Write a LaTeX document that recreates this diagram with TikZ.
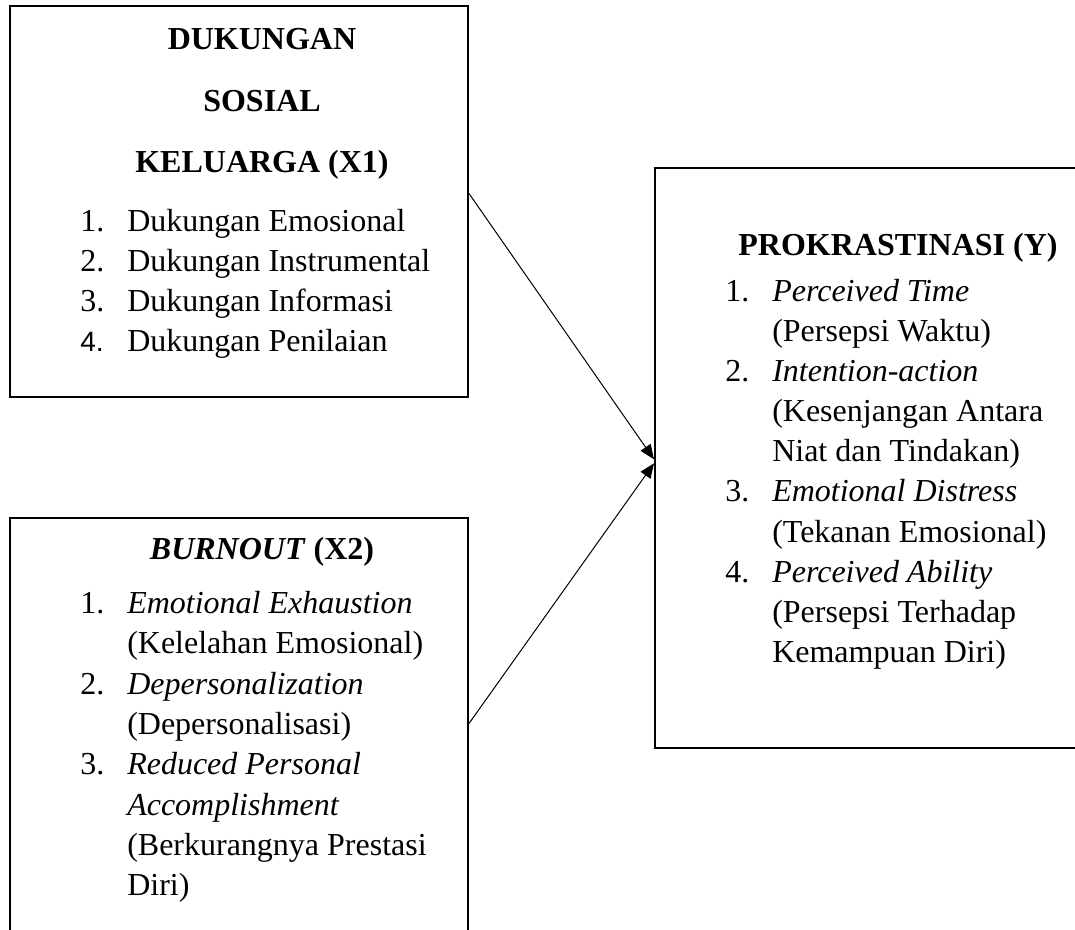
\documentclass[tikz,border=0pt]{standalone}
\usepackage{fontspec}
\setmainfont{Liberation Serif}
\newfontfamily\arialf{Liberation Sans}
\usetikzlibrary{fit,arrows.meta}
\begin{document}
\begin{tikzpicture}[x=0.75pt,y=-0.75pt,
  frame/.style={draw, line width=1.5pt, inner sep=0pt},
  txt/.style={inner sep=0pt, anchor=base west, font=\fontsize{24pt}{30pt}\selectfont},
  head/.style={inner sep=0pt, anchor=base, font=\fontsize{24pt}{30pt}\selectfont\bfseries},
  conn/.style={line width=0.75pt, -{Triangle[length=11pt,width=9pt]}}]
\useasboundingbox (0,0) rectangle (1075,930);
\clip (0,0) rectangle (1075,930);

% boxes
\node[frame, fit={(10,6) (468,397)}] (b1) {};
\node[frame, fit={(10,518) (468,945)}] (b2) {};
\node[frame, fit={(655,168) (1090,748)}] (b3) {};

% box 1 text
\node[head] (h1a) at (262,50) {DUKUNGAN};
\node[head] (h1b) at (262,112) {SOSIAL};
\node[head] (h1c) at (262,173) {KELUARGA (X1)};
\node[txt] (n11) at (80,232) {1.};
\node[txt] (t11) at (127,232) {Dukungan Emosional};
\node[txt] (n12) at (80,272) {2.};
\node[txt] (t12) at (127,272) {Dukungan Instrumental};
\node[txt] (n13) at (80,312) {3.};
\node[txt] (t13) at (127,312) {Dukungan Informasi};
\node[txt, font=\arialf\fontsize{21pt}{30pt}\selectfont] (n14) at (80,352) {4.};
\node[txt] (t14) at (127,352) {Dukungan Penilaian};

% box 2 text
\node[head] (h2) at (262,560) {\textit{BURNOUT} (X2)};
\node[txt] (n21) at (80,613) {1.};
\node[txt] (t21) at (127,613) {\textit{Emotional Exhaustion}};
\node[txt] (t22) at (127,653) {(Kelelahan Emosional)};
\node[txt] (n22) at (80,694) {2.};
\node[txt] (t23) at (127,694) {\textit{Depersonalization}};
\node[txt] (t24) at (127,734) {(Depersonalisasi)};
\node[txt] (n23) at (80,774) {3.};
\node[txt] (t25) at (127,774) {\textit{Reduced Personal}};
\node[txt] (t26) at (127,815) {\textit{Accomplishment}};
\node[txt] (t27) at (127,855) {(Berkurangnya Prestasi};
\node[txt] (t28) at (127,895) {Diri)};

% box 3 text
\node[head] (h3) at (898,256) {PROKRASTINASI (Y)};
\node[txt] (n31) at (725,302) {1.};
\node[txt] (t31) at (772,302) {\textit{Perceived Time}};
\node[txt] (t32) at (772,342) {(Persepsi Waktu)};
\node[txt] (n32) at (725,382) {2.};
\node[txt] (t33) at (772,382) {\textit{Intention-action}};
\node[txt] (t34) at (772,422) {(Kesenjangan Antara};
\node[txt] (t35) at (772,462) {Niat dan Tindakan)};
\node[txt] (n33) at (725,502) {3.};
\node[txt] (t36) at (772,502) {\textit{Emotional Distress}};
\node[txt] (t37) at (772,542) {(Tekanan Emosional)};
\node[txt] (n34) at (725,582) {4.};
\node[txt] (t38) at (772,582) {\textit{Perceived Ability}};
\node[txt] (t39) at (772,622) {(Persepsi Terhadap};
\node[txt] (t3a) at (772,662) {Kemampuan Diri)};

% connectors
\draw[conn] ([yshift=6pt]b1.east) -- ([yshift=-1pt]b3.west);
\draw[conn] ([yshift=6pt]b2.east) -- ([yshift=-4pt]b3.west);
\end{tikzpicture}
\end{document}
